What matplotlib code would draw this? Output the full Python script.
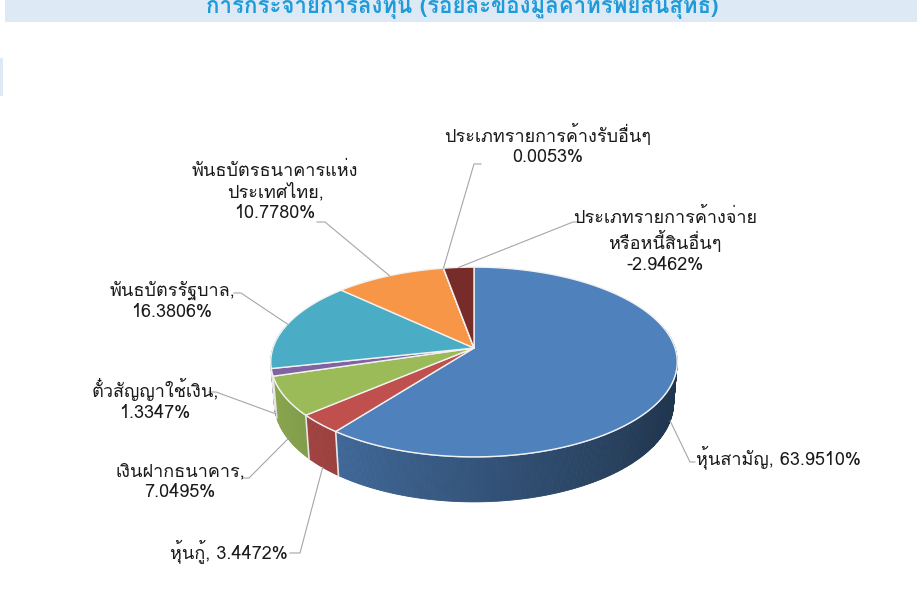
import numpy as np
import matplotlib as mpl
mpl.use('Agg')
import matplotlib.pyplot as plt
from matplotlib.patches import Polygon, Rectangle
from matplotlib.colors import to_rgb

# ------------------------------------------------------------------
# Data: asset allocation (% of NAV)
# ------------------------------------------------------------------
names = ["หุ้นสามัญ", "หุ้นกู้", "เงินฝากธนาคาร", "ตั๋วสัญญาใช้เงิน",
         "พันธบัตรรัฐบาล", "พันธบัตรธนาคารแห่ง\nประเทศไทย",
         "ประเภทรายการค้างรับอื่นๆ", "ประเภทรายการค้างจ่าย\nหรือหนี้สินอื่นๆ"]
values = [63.9510, 3.4472, 7.0495, 1.3347, 16.3806, 10.7780, 0.0053, -2.9462]
joiners = [", ", ", ", ",\n", ",\n", ",\n", ",\n", "\n", "\n"]
colors = ["#4F81BD", "#C0504D", "#9BBB59", "#8064A2",
          "#4BACC6", "#F79646", "#2C4D75", "#772C2A"]
title = "การกระจายการลงทุน (ร้อยละของมูลค่าทรัพย์สินสุทธิ)"

# label centres and leader elbows (pixels)
label_xy = [(778, 457), (229, 551), (180, 482), (155, 400),
            (172, 301), (275, 192), (548, 145), (665, 241)]
elbow_xy = [((690, 462), (695, 462)), ((300, 553), (290, 553)),
            ((249, 478), (242, 478)), ((216, 392), (209, 392)),
            ((241, 293), (234, 293)), ((325, 222), (317, 222)),
            ((474, 164), (481, 164)), ((573, 222), (579, 222))]

FONT = ['Loma', 'DejaVu Sans']

# ------------------------------------------------------------------
# Perspective 3-D pie
# ------------------------------------------------------------------
CX, CY = 474, 348            # projected pie centre
ELEV = np.deg2rad(27.5)
DIST, FOC, THICK = 6.018, 1209.6, 0.2305
S, C = np.sin(ELEV), np.cos(ELEV)


def proj(theta, h=0.0):
    """theta clockwise from 12 o'clock (deg), h height of the rim."""
    t = np.deg2rad(theta)
    x, z = np.sin(t), np.cos(t)
    vert = z * S + h * C
    depth = DIST + z * C - h * S
    return CX + FOC * x / depth, CY - FOC * vert / depth


def shade(col, theta):
    f = 0.65 - 0.25 * np.sin(np.deg2rad(theta))
    return tuple(np.clip(np.array(to_rgb(col)) * f, 0, 1))


mags = np.abs(values)
edges = np.concatenate([[0], np.cumsum(mags) / mags.sum() * 360])

fig = plt.figure(figsize=(9.22, 6.05), dpi=100)
ax = fig.add_axes([0, 0, 1, 1])
ax.set_xlim(0, 922)
ax.set_ylim(605, 0)
ax.axis('off')

# title band
ax.add_patch(Rectangle((5, 0), 912, 22, color="#DDEAF6", lw=0, zorder=1))
ax.add_patch(Rectangle((0, 58), 2.5, 38, color="#DDEAF6", lw=0, zorder=1))
ax.text(462, 13, title, ha='center', va='baseline', fontsize=16,
        fontweight='bold', color="#1F9BDA", family=FONT, zorder=2)

# side walls, far to near
segs = []
for i in range(len(values)):
    a0, a1 = edges[i], edges[i + 1]
    n = max(2, int(np.ceil((a1 - a0) / 0.5)) + 1)
    th = np.linspace(a0, a1, n)
    for t0, t1 in zip(th[:-1], th[1:]):
        tm = 0.5 * (t0 + t1)
        if np.cos(np.deg2rad(tm)) < 0.25:
            segs.append((np.cos(np.deg2rad(tm)), t0, t1, i))
segs.sort(key=lambda s: -s[0])
for _, t0, t1, i in segs:
    pts = [proj(t0), proj(t1), proj(t1, -THICK), proj(t0, -THICK)]
    col = shade(colors[i], 0.5 * (t0 + t1))
    ax.add_patch(Polygon(pts, closed=True, fc=col, ec=col, lw=0.6, zorder=3))

# light seams between slices on the wall, and rim highlight
for e in edges[:-1]:
    if np.cos(np.deg2rad(e)) < -0.05:
        p0, p1 = proj(e), proj(e, -THICK)
        ax.plot([p0[0], p1[0]], [p0[1], p1[1]], color="#E8E8E8", lw=1.2, zorder=4)
rim = np.linspace(95, 265, 200)
rx, ry = zip(*[proj(t) for t in rim])
ax.plot(rx, ry, color="#C9D6E8", lw=1.0, zorder=4)

# top faces
for i in range(len(values)):
    th = np.linspace(edges[i], edges[i + 1], max(2, int((edges[i + 1] - edges[i]) / 0.5) + 2))
    pts = [(CX, CY)] + [proj(t) for t in th]
    ax.add_patch(Polygon(pts, closed=True, fc=colors[i], ec="#F2F2F2",
                         lw=1.0, joinstyle='round', zorder=5))

# labels and leader lines
for i, (nm, v) in enumerate(zip(names, values)):
    mid = 0.5 * (edges[i] + edges[i + 1])
    h = -THICK if np.cos(np.deg2rad(mid)) < 0 else 0.0
    sx, sy = proj(mid, h)
    (ex, ey), (fx, fy) = elbow_xy[i]
    ax.plot([sx, ex, fx], [sy, ey, fy], color="#A6A6A6", lw=0.8, zorder=6)
    lx, ly = label_xy[i]
    ax.text(lx, ly, f"{nm}{joiners[i]}{v:.4f}%", ha='center', va='center',
            fontsize=13, color="#1A1A1A", family=FONT, linespacing=1.2, zorder=7)

fig.savefig("out.png", dpi=100, facecolor="white")
plt.close(fig)
